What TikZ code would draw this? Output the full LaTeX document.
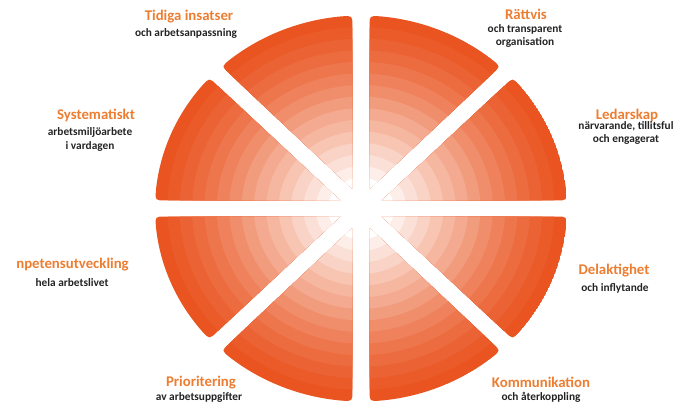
\documentclass[tikz,border=0pt]{standalone}
\usepackage{fontspec}
\setmainfont{Carlito}
\definecolor{wheelOrange}{RGB}{233,84,32}
\definecolor{labelOrange}{RGB}{237,125,49}
\definecolor{noteGray}{RGB}{35,35,35}
\tikzset{
  wheelTitle/.style={text=labelOrange, font=\bfseries\fontsize{11.1}{12}\selectfont, inner sep=0pt},
  wheelNote/.style={text=noteGray, font=\bfseries\fontsize{8.5}{10.2}\selectfont, align=center, inner sep=0pt}
}
% half width of the white gaps, in wheel units
\newcommand{\wheelGap}{0.042}
% concentric rings, dark outside, pale towards the middle
\newcommand{\wheelRings}{%
  \foreach \r/\p in {1.00/100, 0.94/96, 0.88/91, 0.82/86, 0.76/80, 0.70/73, 0.64/66,
                     0.58/58, 0.52/50, 0.46/42, 0.40/34, 0.34/26, 0.28/18, 0.22/10, 0.16/0}{
    \fill[wheelOrange!\p!white] (0,0) circle[radius=\r];
  }}
% one sector between two angles, outer corners rounded
\newcommand{\wheelSector}[2]{%
  \begin{scope}
    \clip (#1+22.5:0.11) -- ([shift={(#1+90:\wheelGap)}]#1:0.95)
      .. controls (#1+2.4:1) .. (#1+5.3:1)
      arc[start angle=#1+5.3, end angle=#2-5.3, radius=1]
      .. controls (#2-2.4:1) .. ([shift={(#2-90:\wheelGap)}]#2:0.95) -- cycle;
    \wheelRings
  \end{scope}}
\begin{document}
\begin{tikzpicture}[x=0.75pt, y=0.75pt]
\useasboundingbox (0,0) rectangle (675,403);
% The wheel
\begin{scope}[shift={(361,194.5)}, x=154.5pt, y=144.75pt]
  \wheelSector{0}{45}
  \wheelSector{45}{90}
  \wheelSector{90}{135}
  \wheelSector{135}{180}
  \wheelSector{180}{225}
  \wheelSector{225}{270}
  \wheelSector{270}{315}
  \wheelSector{315}{360}
\end{scope}
% Labels round the wheel
\node[wheelTitle] (tidiga) at (189,386) {Tidiga insatser};
\node[wheelNote] (tidigaNote) at (186,370) {och arbetsanpassning};
\node[wheelTitle] (rattvis) at (526,389) {Rättvis};
\node[wheelNote] (rattvisNote) at (525,367) {och transparent\\organisation};
\node[wheelTitle] (systematiskt) at (96,288) {Systematiskt};
\node[wheelNote] (systematisktNote) at (90,263.5) {arbetsmiljöarbete\\i vardagen};
\node[wheelTitle] (ledarskap) at (627,288) {Ledarskap};
\node[wheelNote] (ledarskapNote) at (626,270) {närvarande, tillitsful\\och engagerat};
\node[wheelTitle, anchor=east] (kompetens) at (129,138) {npetensutveckling};
\node[wheelNote] (kompetensNote) at (72,120) {hela arbetslivet};
\node[wheelTitle] (delaktighet) at (614,132) {Delaktighet};
\node[wheelNote] (delaktighetNote) at (615,115) {och inflytande};
\node[wheelTitle] (prioritering) at (201,20) {Prioritering};
\node[wheelNote] (prioriteringNote) at (199,6) {av arbetsuppgifter};
\node[wheelTitle] (kommunikation) at (541,21) {Kommunikation};
\node[wheelNote] (kommunikationNote) at (541,6) {och återkoppling};
\end{tikzpicture}
\end{document}
